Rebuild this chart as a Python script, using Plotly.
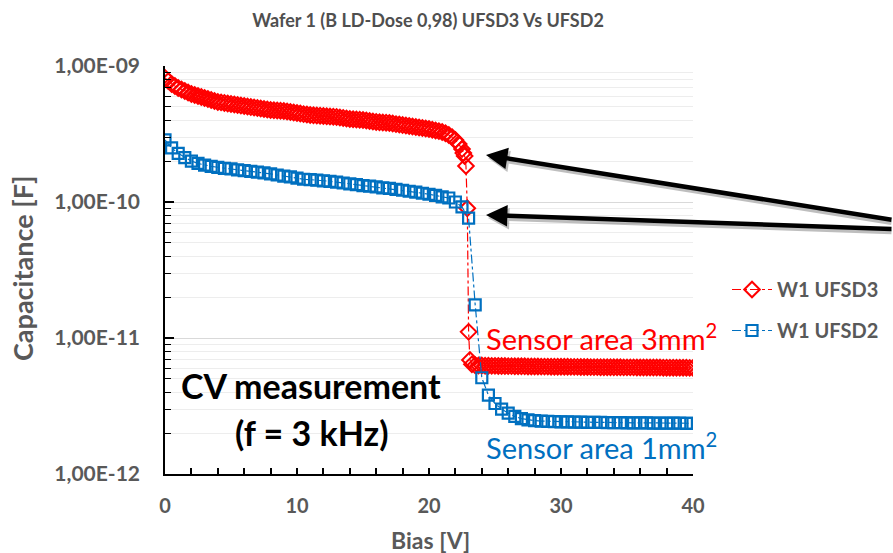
import numpy as np
import plotly.graph_objects as go

# ---------------- data (capacitance in pF, bias in V) ----------------
red_bias_a = np.round(np.arange(0, 22.5001, 0.25), 2).tolist()
red_pf_a = [816, 776, 738, 713, 689, 672, 655, 638, 622, 612,
            602, 592, 582, 572, 563, 553, 544, 540, 535, 530,
            526, 521, 517, 512, 508, 504, 499, 495, 491, 487,
            483, 479, 475, 473, 471, 469, 467, 463, 459, 455,
            451, 447, 443, 440, 436, 434, 432, 431, 429, 427,
            425, 424, 422, 418, 415, 411, 408, 406, 404, 403,
            401, 398, 394, 391, 388, 386, 384, 383, 381, 378,
            374, 371, 368, 365, 362, 359, 356, 353, 350, 347,
            344, 340, 336, 332, 327, 320, 311, 300, 286, 267,
            245]
red_bias_b = [22.6, 22.7, 22.8, 22.9, 23.0, 23.1, 23.25]
red_pf_b = [229, 218, 184, 90, 11.1, 6.9, 6.4]
red_bias_c = np.round(np.arange(23.5, 40.0001, 0.25), 2).tolist()
red_pf_c = [6.30, 6.28, 6.27, 6.26, 6.25, 6.24, 6.24, 6.23, 6.22, 6.22,
            6.21, 6.21, 6.20, 6.20, 6.19, 6.19, 6.18, 6.18, 6.17, 6.17,
            6.16, 6.16, 6.16, 6.15, 6.15, 6.15, 6.14, 6.14, 6.14, 6.13,
            6.13, 6.13, 6.12, 6.12, 6.12, 6.11, 6.11, 6.11, 6.10, 6.10,
            6.10, 6.10, 6.09, 6.09, 6.09, 6.08, 6.08, 6.08, 6.08, 6.07,
            6.07, 6.07, 6.07, 6.06, 6.06, 6.06, 6.06, 6.05, 6.05, 6.05,
            6.05, 6.04, 6.04, 6.04, 6.04, 6.03, 6.03]

blue_bias = np.round(np.arange(0, 40.0001, 0.5), 2).tolist()
blue_pf = [286, 250, 228, 212, 200, 192, 187, 183, 180, 177,
           175, 172, 170, 168, 166, 164, 161, 158, 155, 153,
           150, 147, 146, 145, 143, 142, 140, 138, 136, 134,
           132, 131, 129, 127, 126, 124, 122, 120, 118, 116,
           114, 112, 109, 107, 100, 92, 76, 17.5, 5.1, 3.8,
           3.3, 3.0, 2.8, 2.65, 2.55, 2.5, 2.47, 2.45, 2.44, 2.43,
           2.42, 2.42, 2.41, 2.41, 2.40, 2.40, 2.40, 2.39, 2.39, 2.39,
           2.38, 2.38, 2.38, 2.38, 2.37, 2.37, 2.37, 2.37, 2.37, 2.36,
           2.36]

red_bias = red_bias_a + red_bias_b + red_bias_c
red_cap = [v * 1e-12 for v in red_pf_a + red_pf_b + red_pf_c]
blue_cap = [v * 1e-12 for v in blue_pf]

y_tickvals = [1e-12, 1e-11, 1e-10, 1e-9]
y_ticktext = ["1,00E-12", "1,00E-11", "1,00E-10", "1,00E-09"]
x_tickvals = [0, 10, 20, 30, 40]

RED = "#FF0000"
BLUE = "#0070C0"
GRAY = "#595959"
FONT = "Lato"

# ---------------- layout geometry ----------------
W, H = 893, 553
L, R, T, B = 165, 200, 66, 79
PW, PH = W - L - R, H - T - B


def px(x):
    return (x - L) / PW


def py(y):
    return (H - B - y) / PH


fig = go.Figure()
fig.add_trace(go.Scatter(
    x=red_bias, y=red_cap, name="W1 UFSD3", mode="lines+markers",
    legendgroup="a",
    line=dict(color=RED, width=1.2, dash="dashdot"),
    marker=dict(symbol="diamond-open", size=12, color=RED, line=dict(width=2, color=RED)),
))
fig.add_trace(go.Scatter(
    x=blue_bias, y=blue_cap, name="W1 UFSD2", mode="lines+markers",
    legendgroup="b",
    line=dict(color=BLUE, width=1.2, dash="dashdot"),
    marker=dict(symbol="square-open", size=11, color=BLUE, line=dict(width=2.2, color=BLUE)),
))

annotations = [
    dict(text="Sensor area 3mm<sup>2</sup>", x=px(484), y=py(337), xref="paper", yref="paper",
         xanchor="left", yanchor="middle", showarrow=False,
         font=dict(family=FONT, size=29, color=RED)),
    dict(text="Sensor area 1mm<sup>2</sup>", x=px(484), y=py(446), xref="paper", yref="paper",
         xanchor="left", yanchor="middle", showarrow=False,
         font=dict(family=FONT, size=29, color=BLUE)),
    dict(text="CV measurement", x=px(311), y=py(385), xref="paper", yref="paper",
         xanchor="center", yanchor="middle", showarrow=False,
         font=dict(family=FONT, size=34, color="black", weight="bold")),
    dict(text="(f = 3 kHz)", x=px(312), y=py(432), xref="paper", yref="paper",
         xanchor="center", yanchor="middle", showarrow=False,
         font=dict(family=FONT, size=34, color="black", weight="bold")),
    dict(text="Capacitance [F]", x=px(22), y=py(269), xref="paper", yref="paper",
         xanchor="center", yanchor="middle", showarrow=False, textangle=-90,
         font=dict(family=FONT, size=27, color=GRAY, weight="bold")),
    dict(text="Bias [V]", x=px(430), y=py(540), xref="paper", yref="paper",
         xanchor="center", yanchor="middle", showarrow=False,
         font=dict(family=FONT, size=23, color=GRAY, weight="bold")),
]
# arrows pointing at the knee of the curves
for tip, tail in [((486, 155), (905, 220)), ((486, 215), (905, 229))]:
    for dx, dy, col in [(2, 3, "rgba(0,0,0,0.25)"), (0, 0, "black")]:
        annotations.append(dict(
            x=px(tip[0] + dx), y=py(tip[1] + dy), xref="paper", yref="paper",
            ax=tail[0] - tip[0], ay=tail[1] - tip[1], axref="pixel", ayref="pixel",
            text="", showarrow=True, arrowhead=2, arrowsize=0.95, arrowwidth=4.5,
            arrowcolor=col,
        ))

fig.update_layout(
    width=W, height=H,
    margin=dict(l=L, r=R, t=T, b=B, autoexpand=False),
    paper_bgcolor="white", plot_bgcolor="white",
    font=dict(family=FONT, color=GRAY),
    title=dict(text="<b>Wafer 1 (B LD-Dose 0,98) UFSD3 Vs UFSD2</b>",
               x=px(428), xref="paper", xanchor="center",
               y=1 - 21 / H, yref="container", yanchor="middle",
               font=dict(family=FONT, size=18, color="#4F4F4F", weight="bold")),
    legend=dict(x=px(727), y=py(270), xanchor="left", yanchor="top",
                font=dict(family=FONT, size=20, color=GRAY, weight="bold"),
                bgcolor="rgba(0,0,0,0)", tracegroupgap=12, itemwidth=40),
    annotations=annotations,
    xaxis=dict(range=[0, 40], tickvals=x_tickvals, showgrid=False, zeroline=False,
               showline=True, linecolor="black", linewidth=1.5,
               ticks="inside", ticklen=6, tickcolor="black", tickwidth=1.5,
               minor=dict(dtick=2, ticks="inside", ticklen=6, tickcolor="black", tickwidth=1.5),
               tickfont=dict(family=FONT, size=20, color=GRAY, weight="bold"),
               ticklabelstandoff=13),
    yaxis=dict(type="log", range=[-12, -9], tickvals=y_tickvals, ticktext=y_ticktext,
               showgrid=True, gridcolor="#D9D9D9", gridwidth=1.2, zeroline=False,
               showline=True, linecolor="black", linewidth=1.5,
               ticks="inside", ticklen=9, tickcolor="black", tickwidth=1.5,
               minor=dict(dtick="D1", ticks="inside", ticklen=6, tickcolor="black",
                          tickwidth=1.2, showgrid=True, gridcolor="#EDEDED", gridwidth=1),
               tickfont=dict(family=FONT, size=21, color=GRAY, weight="bold"),
               ticklabelstandoff=19),
)

fig.write_html("out.html")
